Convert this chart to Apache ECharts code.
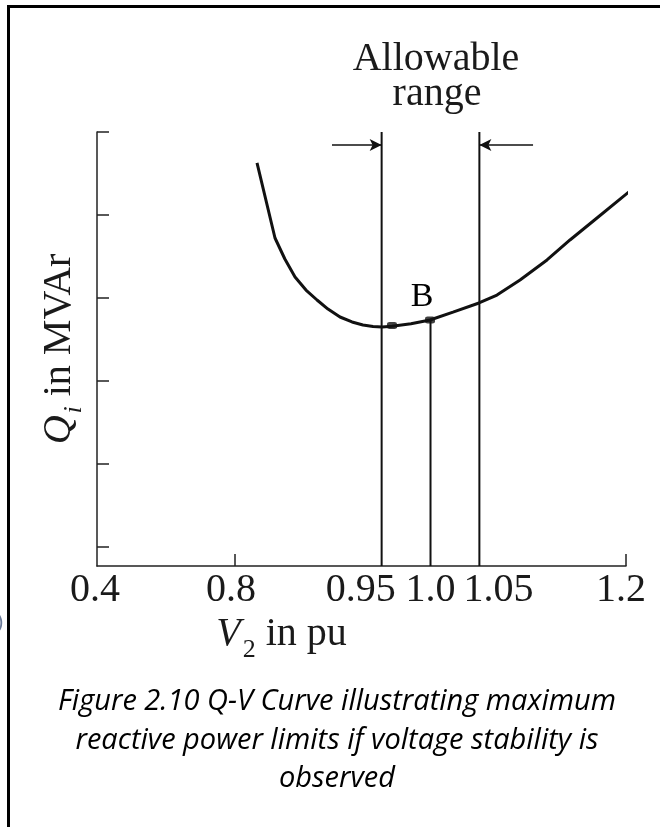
<!DOCTYPE html>
<html>
<head>
<meta charset="utf-8">
<script src="https://cdn.jsdelivr.net/npm/echarts@6/dist/echarts.min.js"></script>
<style>
html,body{margin:0;padding:0;background:#fff;}
#chart{width:660px;height:827px;}
</style>
</head>
<body>
<div id="chart"></div>
<script>
// ---- data (V in pu, Q in relative MVAr units; no numeric Q labels in the figure) ----
var curveV = [0.8225, 0.8409, 0.851, 0.8614, 0.8726, 0.8839, 0.8951, 0.9074, 0.9197, 0.9309, 0.9412, 0.9504, 0.9606, 0.9800, 0.9995, 1.0230, 1.0496, 1.0680, 1.0916, 1.1192, 1.1427, 1.1703, 1.2041];
var curveQ = [4.627, 3.723, 3.47, 3.253, 3.096, 2.976, 2.867, 2.771, 2.711, 2.675, 2.657, 2.651, 2.66, 2.69, 2.735, 2.83, 2.94, 3.036, 3.217, 3.458, 3.699, 3.964, 4.289];
var guideV = [0.95, 1.0, 1.05];
var guideTopQ = [5.0, 2.735, 5.0];
var dotV = [0.9606, 0.9995];
var dotQ = [2.67, 2.735];
var dotNames = ['', 'B'];
var arrowQ = 4.843;
var arrowFromV = [0.8992, 1.1049];
var arrowToV = [0.95, 1.05];
var xTickValues = [0.4, 0.8, 0.95, 1.0, 1.05, 1.2];
var xTickLabels = ['0.4', '0.8', '0.95', '1.0', '1.05', '1.2'];
var xTickStyle = ['a', 'b', 'l', 'n', 'r', 'c'];
var xAxisMarks = [0.8, 1.2];
var yTickValues = [0, 1, 2, 3, 4, 5];
var yMin = -0.229, yMax = 5.0;
var xMin = 0.4, xMax = 1.2;
var captionLines = [
  'Figure 2.10 Q-V Curve illustrating maximum',
  'reactive power limits if voltage stability is',
  'observed'
];

// axis is compressed between 0.4 and 0.8 (as in the original figure)
var BREAK = 0.8, SQUEEZE = 0.353;
function s(v) { return v >= BREAK ? v : BREAK - (BREAK - v) * SQUEEZE; }

var serif = '"Liberation Serif", "Times New Roman", serif';
var labelBase = { fontFamily: serif, fontSize: 40, color: '#1a1a1a' };
function rs(extra) { return Object.assign({}, labelBase, extra); }

var series = [];
series.push({
  type: 'line', name: 'Q-V', data: curveV.map(function (v, i) { return [s(v), curveQ[i]]; }),
  showSymbol: false, clip: false, smooth: false,
  lineStyle: { color: '#111', width: 3 }, z: 5, silent: true
});
guideV.forEach(function (v, i) {
  series.push({
    type: 'line', data: [[s(v), yMin], [s(v), guideTopQ[i]]],
    showSymbol: false, lineStyle: { color: '#111', width: 2 }, z: 4, silent: true
  });
});
series.push({
  type: 'scatter', data: dotV.map(function (v, i) { return { value: [s(v), dotQ[i]], name: dotNames[i] }; }),
  symbol: 'roundRect', symbolSize: [10, 7], itemStyle: { color: '#111' }, z: 6, silent: true,
  label: {
    show: true, position: 'top', distance: 2, offset: [-8, 0],
    formatter: function (p) { return p.name ? '{b|' + p.name + '}' : ''; },
    rich: { b: { fontFamily: serif, fontSize: 34, color: '#000', opacity: 1 } }
  }
});
series.push({
  type: 'line', data: [], silent: true,
  markLine: {
    silent: true, animation: false,
    symbol: ['none', 'arrow'], symbolSize: [9, 12],
    label: { show: false },
    lineStyle: { color: '#111', width: 1.5, type: 'solid' },
    data: arrowFromV.map(function (v, i) {
      return [{ coord: [s(v), arrowQ] }, { coord: [s(arrowToV[i]), arrowQ] }];
    })
  }
});

var captionFont = 'italic 29px "Open Sans"';
var captionY = [702, 741, 779];
var graphics = [
  { type: 'line', shape: { x1: 8.5, y1: 6.5, x2: 660, y2: 6.5 }, style: { stroke: '#000', lineWidth: 3 }, silent: true },
  { type: 'line', shape: { x1: 8.5, y1: 5, x2: 8.5, y2: 827 }, style: { stroke: '#000', lineWidth: 3 }, silent: true },
  { type: 'text', x: -3, y: 622, style: { text: ')', font: '20px "Noto Sans"', fill: '#6b7a99', textAlign: 'left', textVerticalAlign: 'middle', align: 'left', verticalAlign: 'middle' }, silent: true },
  { type: 'text', x: 436, y: 59, style: { text: 'Allowable', font: '40px ' + serif, fill: '#1a1a1a', textAlign: 'center', textVerticalAlign: 'middle', align: 'center', verticalAlign: 'middle' }, silent: true },
  { type: 'text', x: 437, y: 94, style: { text: 'range', font: '40px ' + serif, fill: '#1a1a1a', textAlign: 'center', textVerticalAlign: 'middle', align: 'center', verticalAlign: 'middle' }, silent: true }
];
captionLines.forEach(function (t, i) {
  graphics.push({ type: 'text', x: 337, y: captionY[i], style: { text: t, font: captionFont, fill: '#000', textAlign: 'center', textVerticalAlign: 'middle', align: 'center', verticalAlign: 'middle' }, silent: true });
});

var option = {
  animation: false,
  backgroundColor: '#fff',
  grid: { left: 97, right: 34, top: 132, bottom: 261, containLabel: false },
  xAxis: {
    type: 'value', min: s(xMin), max: xMax,
    name: '{v|V}{s|2}{t| in pu}',
    nameLocation: 'middle', nameGap: 46,
    nameTextStyle: {
      padding: [0, 160, 0, 0],
      rich: {
        v: rs({ fontStyle: 'italic', lineHeight: 40 }),
        s: rs({ fontSize: 26, lineHeight: 26, padding: [22, 0, 0, 2], verticalAlign: 'top' }),
        t: rs({ lineHeight: 40 })
      }
    },
    axisLine: { onZero: false, lineStyle: { color: '#222', width: 1.5 } },
    axisTick: { show: true, inside: true, length: 12, customValues: xAxisMarks.map(s), lineStyle: { color: '#222', width: 1.5 } },
    axisLabel: {
      customValues: xTickValues.map(s), margin: 4,
      formatter: function (val) {
        for (var i = 0; i < xTickValues.length; i++) {
          if (Math.abs(s(xTickValues[i]) - val) < 1e-6) return '{' + xTickStyle[i] + '|' + xTickLabels[i] + '}';
        }
        return '';
      },
      rich: {
        a: rs({ padding: [0, 4, 0, 0] }),
        b: rs({ padding: [0, 8, 0, 0] }),
        l: rs({ padding: [0, 42, 0, 0] }),
        n: rs({}),
        r: rs({ padding: [0, 0, 0, 38] }),
        c: rs({ padding: [0, 10, 0, 0] })
      }
    },
    splitLine: { show: false }
  },
  yAxis: {
    type: 'value', min: yMin, max: yMax,
    name: '{q|Q}{s|i}{t| in MVAr}',
    nameLocation: 'middle', nameGap: 18, nameRotate: 90,
    nameTextStyle: {
      rich: {
        q: rs({ fontStyle: 'italic', lineHeight: 40 }),
        s: rs({ fontStyle: 'italic', fontSize: 26, lineHeight: 26, padding: [22, 0, 0, 2], verticalAlign: 'top' }),
        t: rs({ lineHeight: 40 })
      }
    },
    axisLine: { show: true, onZero: false, lineStyle: { color: '#222', width: 1.5 } },
    axisTick: { show: true, inside: true, length: 12, customValues: yTickValues, lineStyle: { color: '#222', width: 1.5 } },
    axisLabel: { show: false },
    splitLine: { show: false }
  },
  graphic: graphics,
  series: series
};

var chart = echarts.init(document.getElementById('chart'), null, { renderer: 'canvas' });
chart.setOption(option);
</script>
</body>
</html>
